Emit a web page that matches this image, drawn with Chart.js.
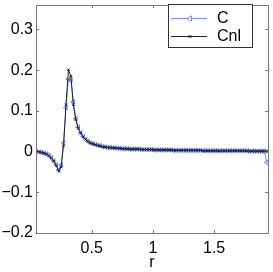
<!DOCTYPE html>
<html>
<head>
<meta charset="utf-8">
<script src="https://cdn.jsdelivr.net/npm/chart.js@4"></script>
<style>
  body { margin: 0; background: #fff; }
  canvas { display: block; }
</style>
</head>
<body>
<canvas id="chart" width="273" height="272"></canvas>
<script>
// r grid (x values)
const rValues = [
  0.05, 0.07, 0.09, 0.11, 0.13, 0.15, 0.17, 0.19, 0.21, 0.23,
  0.25, 0.27, 0.29, 0.31, 0.33, 0.35, 0.37, 0.39, 0.41, 0.43,
  0.45, 0.47, 0.49, 0.51, 0.53, 0.55, 0.57, 0.59, 0.61, 0.63,
  0.65, 0.67, 0.69, 0.71, 0.73, 0.75, 0.77, 0.79, 0.81, 0.83,
  0.85, 0.87, 0.89, 0.91, 0.93, 0.95, 0.97, 0.99, 1.01, 1.03,
  1.05, 1.07, 1.09, 1.11, 1.13, 1.15, 1.17, 1.19, 1.21, 1.23,
  1.25, 1.27, 1.29, 1.31, 1.33, 1.35, 1.37, 1.39, 1.41, 1.43,
  1.45, 1.47, 1.49, 1.51, 1.53, 1.55, 1.57, 1.59, 1.61, 1.63,
  1.65, 1.67, 1.69, 1.71, 1.73, 1.75, 1.77, 1.79, 1.81, 1.83,
  1.85, 1.87, 1.89, 1.91, 1.93
];
const cValues = [
  0.000, -0.001, -0.002, -0.004, -0.006, -0.009, -0.015, -0.023, -0.033, -0.045,
  -0.033, 0.022, 0.108, 0.178, 0.176, 0.122, 0.081, 0.060, 0.046, 0.037,
  0.030, 0.025, 0.021, 0.019, 0.017, 0.015, 0.014, 0.012, 0.011, 0.010,
  0.010, 0.009, 0.009, 0.008, 0.008, 0.007, 0.007, 0.007, 0.006, 0.006,
  0.006, 0.006, 0.006, 0.005, 0.005, 0.005, 0.005, 0.005, 0.004, 0.004,
  0.004, 0.004, 0.004, 0.004, 0.004, 0.004, 0.003, 0.003, 0.003, 0.003,
  0.003, 0.003, 0.003, 0.003, 0.003, 0.003, 0.003, 0.003, 0.002, 0.002,
  0.002, 0.002, 0.002, 0.002, 0.002, 0.002, 0.002, 0.002, 0.002, 0.002,
  0.002, 0.002, 0.002, 0.002, 0.002, 0.002, 0.002, 0.001, 0.001, 0.001,
  0.001, 0.001, 0.001, 0.001, -0.027
];
const cnlValues = [
  0.000, -0.001, -0.002, -0.004, -0.006, -0.010, -0.016, -0.024, -0.034, -0.048,
  -0.038, 0.014, 0.115, 0.201, 0.185, 0.115, 0.078, 0.057, 0.045, 0.036,
  0.030, 0.025, 0.021, 0.019, 0.017, 0.015, 0.014, 0.012, 0.011, 0.010,
  0.010, 0.009, 0.009, 0.008, 0.008, 0.007, 0.007, 0.007, 0.006, 0.006,
  0.006, 0.006, 0.006, 0.005, 0.005, 0.005, 0.005, 0.005, 0.004, 0.004,
  0.004, 0.004, 0.004, 0.004, 0.004, 0.004, 0.003, 0.003, 0.003, 0.003,
  0.003, 0.003, 0.003, 0.003, 0.003, 0.003, 0.003, 0.003, 0.002, 0.002,
  0.002, 0.002, 0.002, 0.002, 0.002, 0.002, 0.002, 0.002, 0.002, 0.002,
  0.002, 0.002, 0.002, 0.002, 0.002, 0.002, 0.002, 0.001, 0.001, 0.001,
  0.001, 0.001, 0.001, 0.001, 0.001
];
const xTicks = [0.5, 1, 1.5];
const yTicks = [-0.2, -0.1, 0, 0.1, 0.2, 0.3];

const blue = "rgba(80,105,255,0.75)";
const black = "#222";
const fontFamily = "'Liberation Sans', Arial, Helvetica, sans-serif";

function toPoints(ys) {
  return rValues.map((r, i) => ({ x: r, y: ys[i] }));
}

// matlab style box with inward ticks
const axesBox = {
  id: "axesBox",
  afterDraw(chart) {
    const ctx = chart.ctx;
    const a = chart.chartArea;
    const xs = chart.scales.x, ys = chart.scales.y;
    ctx.save();
    ctx.strokeStyle = "#7a7a7a";
    ctx.lineWidth = 1;
    ctx.strokeRect(Math.round(a.left) + 0.5, Math.round(a.top) + 0.5,
      Math.round(a.right - a.left), Math.round(a.bottom - a.top));
    ctx.beginPath();
    xTicks.forEach(v => {
      const px = Math.round(xs.getPixelForValue(v)) + 0.5;
      ctx.moveTo(px, a.bottom); ctx.lineTo(px, a.bottom - 3);
      ctx.moveTo(px, a.top); ctx.lineTo(px, a.top + 3);
    });
    yTicks.forEach(v => {
      const py = Math.round(ys.getPixelForValue(v)) + 0.5;
      ctx.moveTo(a.left, py); ctx.lineTo(a.left + 3, py);
      ctx.moveTo(a.right, py); ctx.lineTo(a.right - 3, py);
    });
    ctx.stroke();
    ctx.restore();
  }
};

// legend box with line + marker samples
const boxLegend = {
  id: "boxLegend",
  afterDraw(chart) {
    const ctx = chart.ctx;
    const x0 = 168.5, y0 = 4.5, w = 84, h = 43;
    ctx.save();
    ctx.fillStyle = "#fff";
    ctx.fillRect(x0, y0, w, h);
    ctx.strokeStyle = "#333";
    ctx.lineWidth = 1;
    ctx.strokeRect(x0, y0, w, h);
    const rows = [
      { label: "C", color: blue, style: "triangle", rot: -90, r: 3, y: 18.5 },
      { label: "Cnl", color: black, style: "crossRot", rot: 0, r: 2, y: 36.5 }
    ];
    rows.forEach(row => {
      ctx.strokeStyle = row.color;
      ctx.beginPath();
      ctx.moveTo(171, row.y); ctx.lineTo(207, row.y);
      ctx.stroke();
      Chart.helpers.drawPoint(ctx, {
        pointStyle: row.style, radius: row.r, rotation: row.rot, borderWidth: 1
      }, 190, row.y);
      ctx.fillStyle = "#000";
      ctx.font = "16px " + fontFamily;
      ctx.textBaseline = "middle";
      ctx.fillText(row.label, 217, row.y);
    });
    ctx.restore();
  }
};

new Chart(document.getElementById("chart").getContext("2d"), {
  type: "line",
  data: {
    datasets: [
      {
        label: "C",
        data: toPoints(cValues),
        borderColor: blue,
        borderWidth: 1,
        pointStyle: "triangle",
        pointRotation: -90,
        pointRadius: 2.6,
        pointBorderColor: blue,
        pointBackgroundColor: "rgba(0,0,0,0)",
        pointBorderWidth: 1,
        order: 2
      },
      {
        label: "Cnl",
        data: toPoints(cnlValues),
        borderColor: black,
        borderWidth: 1,
        pointStyle: "crossRot",
        pointRadius: 1.8,
        pointBorderColor: black,
        pointBorderWidth: 1,
        order: 1
      }
    ]
  },
  options: {
    responsive: false,
    animation: false,
    layout: { padding: { top: 2, right: 3, left: 0, bottom: 0 } },
    plugins: { legend: { display: false }, tooltip: { enabled: false } },
    scales: {
      x: {
        type: "linear",
        min: 0.045,
        max: 1.94,
        grid: { display: false, drawTicks: false },
        border: { display: false },
        afterBuildTicks: s => { s.ticks = xTicks.map(v => ({ value: v })); },
        afterFit: s => { s.height = 39; s.paddingLeft = 0; s.paddingRight = 0; },
        ticks: {
          color: "#000",
          font: { family: fontFamily, size: 16 },
          padding: 6,
          maxRotation: 0,
          callback: v => String(v)
        },
        title: {
          display: true,
          text: "r",
          color: "#000",
          font: { family: fontFamily, size: 16 },
          padding: 0
        }
      },
      y: {
        min: -0.2,
        max: 0.36,
        grid: { display: false, drawTicks: false },
        border: { display: false },
        afterBuildTicks: s => { s.ticks = yTicks.map(v => ({ value: v })); },
        afterFit: s => { s.width = 36; s.paddingTop = 0; s.paddingBottom = 0; },
        ticks: {
          color: "#000",
          font: { family: fontFamily, size: 16 },
          padding: 3,
          callback: v => v === 0 ? "0" : (v < 0 ? "\u2212" : "") + Math.abs(v).toFixed(1)
        }
      }
    }
  },
  plugins: [axesBox, boxLegend]
});
</script>
</body>
</html>
